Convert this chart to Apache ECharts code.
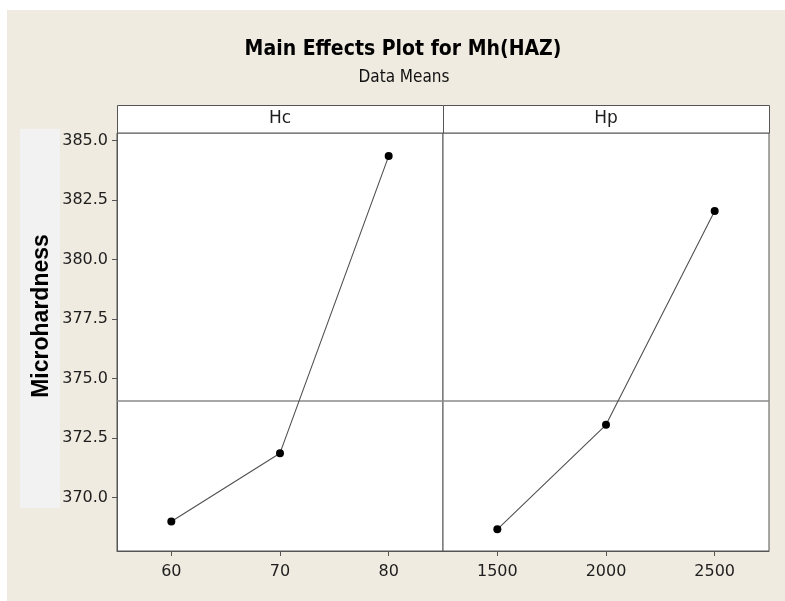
<!DOCTYPE html>
<html>
<head>
<meta charset="utf-8">
<script src="https://cdn.jsdelivr.net/npm/echarts@6/dist/echarts.min.js"></script>
<style>
  html, body { margin: 0; padding: 0; background: #ffffff; }
  #chart { width: 785px; height: 601px; }
</style>
</head>
<body>
<div id="chart"></div>
<script>
// Factor levels and mean microhardness at each level
const hcLevels = [60, 70, 80];
const hcMeans = [368.99, 371.86, 384.34];
const hpLevels = [1500, 2000, 2500];
const hpMeans = [368.66, 373.05, 382.03];
// Overall mean drawn as the horizontal reference line
const grandMean = 374.08;
// Tick values
const yTicks = [370, 372.5, 375, 377.5, 380, 382.5, 385];
const hcTicks = [60, 70, 80];
const hpTicks = [1500, 2000, 2500];
const panelNames = ['Hc', 'Hp'];
const titleText = 'Main Effects Plot for Mh(HAZ)';
const subtitleText = 'Data Means';
const yName = 'Microhardness';

const frameColor = '#555555';
const labelFont = 'DejaVu Sans';
const condensed = 'DejaVu Sans Condensed';

function pairs(xs, ys) { return xs.map((x, i) => [x, ys[i]]); }

const chart = echarts.init(document.getElementById('chart'), null, { renderer: 'canvas' });

const gridTop = 133, gridH = 418, gridW = 326;
const grids = [
  { left: 117, top: gridTop, width: gridW, height: gridH },
  { left: 443, top: gridTop, width: gridW, height: gridH }
].map(g => Object.assign(g, {
  show: true, backgroundColor: '#ffffff', borderColor: frameColor, borderWidth: 1
}));

function xAxisFor(idx, min, max, ticks) {
  return {
    type: 'value', gridIndex: idx, min: min, max: max,
    splitLine: { show: false },
    axisLine: { show: true, onZero: false, lineStyle: { color: frameColor, width: 1 } },
    axisTick: { show: true, customValues: ticks, length: 5, lineStyle: { color: frameColor } },
    axisLabel: { customValues: ticks, fontFamily: labelFont, fontSize: 16, color: '#1e1e1e', margin: 13,
      formatter: v => String(v) }
  };
}

const yMin = 367.75, yMax = 385.31;

const option = {
  animation: false,
  backgroundColor: '#ffffff',
  grid: grids,
  xAxis: [
    xAxisFor(0, 55, 85, hcTicks),
    xAxisFor(1, 1250, 2750, hpTicks)
  ],
  yAxis: [
    {
      type: 'value', gridIndex: 0, min: yMin, max: yMax,
      splitLine: { show: false },
      axisLine: { show: true, lineStyle: { color: frameColor } },
      axisTick: { show: true, customValues: yTicks, length: 5, lineStyle: { color: frameColor } },
      axisLabel: {
        customValues: yTicks, fontFamily: labelFont, fontSize: 16, color: '#1e1e1e', margin: 9,
        formatter: v => Number(v).toFixed(1)
      }
    },
    {
      type: 'value', gridIndex: 1, min: yMin, max: yMax,
      splitLine: { show: false },
      axisLine: { show: false }, axisTick: { show: false }, axisLabel: { show: false }
    }
  ],
  series: [
    { data: pairs(hcLevels, hcMeans), xAxisIndex: 0, yAxisIndex: 0 },
    { data: pairs(hpLevels, hpMeans), xAxisIndex: 1, yAxisIndex: 1 }
  ].map(s => Object.assign(s, {
    type: 'line',
    symbol: 'circle', symbolSize: 8,
    itemStyle: { color: '#000000' },
    lineStyle: { color: '#505050', width: 1.1 },
    markLine: {
      silent: true, symbol: 'none', label: { show: false },
      lineStyle: { color: '#8a8a8a', width: 1.5, type: 'solid' },
      data: [{ yAxis: grandMean }]
    },
    z: 5
  })),
  graphic: [
    // beige canvas
    { type: 'rect', z: -100, shape: { x: 7, y: 10, width: 778, height: 591 }, style: { fill: '#f0ebe1' } },
    // panel behind the y-axis name
    { type: 'rect', z: -90, shape: { x: 20, y: 129, width: 40, height: 379 }, style: { fill: '#f2f2f2' } },
    // y-axis name, reading bottom to top
    { type: 'text', x: 42, y: 316, rotation: Math.PI / 2,
      style: { text: yName, align: 'center', verticalAlign: 'middle',
        font: 'bold 23px "Liberation Sans"', fill: '#000000' } },
    // title and subtitle
    { type: 'text', x: 403, y: 50, style: { text: titleText, align: 'center', verticalAlign: 'middle',
      font: 'bold 21px "' + condensed + '"', fill: '#000000' } },
    { type: 'text', x: 404, y: 78, style: { text: subtitleText, align: 'center', verticalAlign: 'middle',
      font: '17px "' + condensed + '"', fill: '#111111' } },
    // strip with panel names
    { type: 'rect', shape: { x: 117.5, y: 105.5, width: 652, height: 27.5 },
      style: { fill: '#ffffff', stroke: frameColor, lineWidth: 1 } },
    { type: 'line', shape: { x1: 443.5, y1: 105.5, x2: 443.5, y2: 133 }, style: { stroke: frameColor, lineWidth: 1 } },
    { type: 'text', x: 280, y: 119, style: { text: panelNames[0], align: 'center', verticalAlign: 'middle',
      font: '17px "' + labelFont + '"', fill: '#1e1e1e' } },
    { type: 'text', x: 606, y: 119, style: { text: panelNames[1], align: 'center', verticalAlign: 'middle',
      font: '17px "' + labelFont + '"', fill: '#1e1e1e' } }
  ]
};

chart.setOption(option);
</script>
</body>
</html>
